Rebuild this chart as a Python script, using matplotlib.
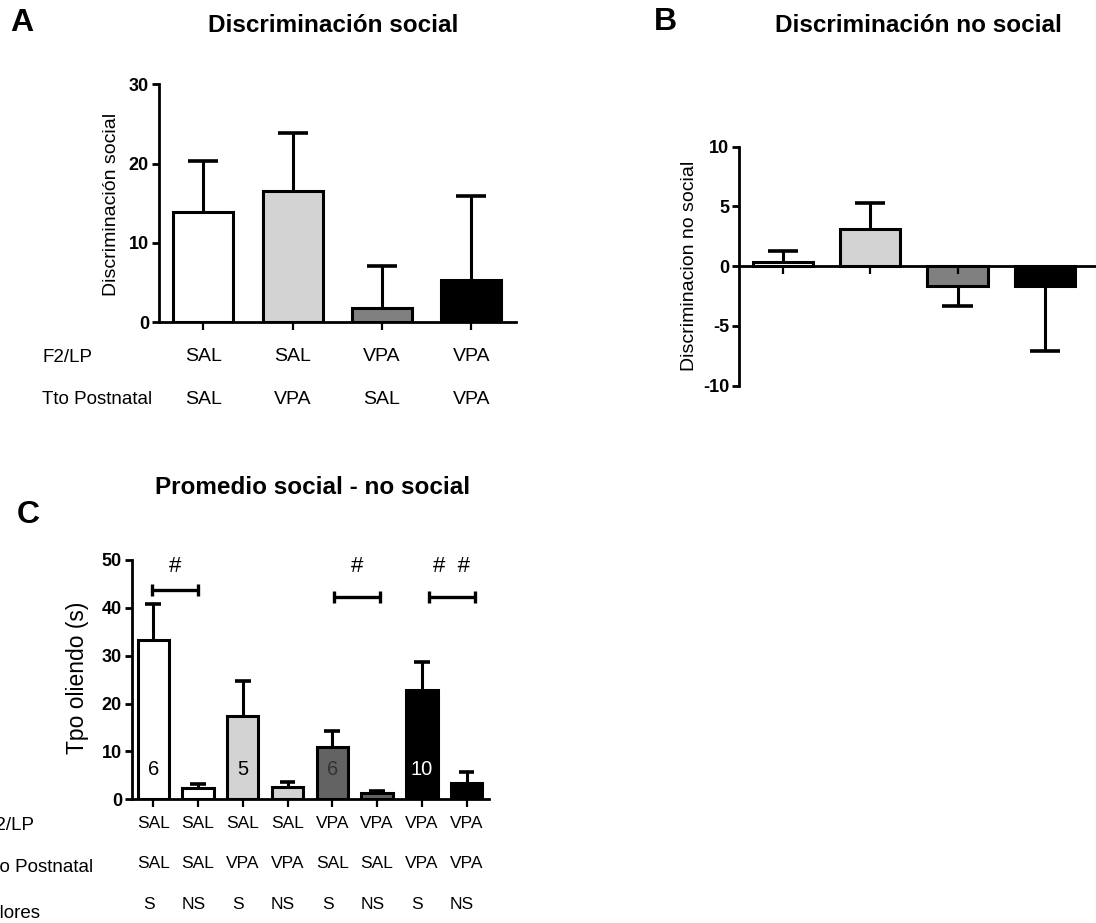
import matplotlib
matplotlib.use("Agg")
import matplotlib.pyplot as plt
import numpy as np

plt.rcParams['font.family'] = ['Liberation Sans', 'DejaVu Sans']

# Panel A: social discrimination
a_means = [13.9, 16.5, 1.8, 5.3]
a_sem = [6.4, 7.3, 5.3, 10.6]
a_f2lp = ['SAL', 'SAL', 'VPA', 'VPA']
a_postnatal = ['SAL', 'VPA', 'SAL', 'VPA']
a_colors = ['#ffffff', '#d3d3d3', '#808080', '#000000']

# Panel B: non-social discrimination
b_means = [0.35, 3.15, -1.67, -1.62]
b_sem = [0.95, 2.15, 1.67, 5.5]
b_colors = ['#ffffff', '#d3d3d3', '#808080', '#000000']

# Panel C: mean sniffing time, social vs non-social
c_means = [33.3, 2.3, 17.4, 2.6, 11.0, 1.4, 22.8, 3.5]
c_sem = [7.5, 0.9, 7.4, 1.0, 3.3, 0.3, 5.8, 2.1]
c_f2lp = ['SAL', 'SAL', 'SAL', 'SAL', 'VPA', 'VPA', 'VPA', 'VPA']
c_postnatal = ['SAL', 'SAL', 'VPA', 'VPA', 'SAL', 'SAL', 'VPA', 'VPA']
c_stim = ['S', 'NS', 'S', 'NS', 'S', 'NS', 'S', 'NS']
c_n = ['6', '', '5', '', '6', '', '10', '']
c_n_colors = ['#000000', '#000000', '#000000', '#000000', '#333333', '#000000', '#ffffff', '#000000']
c_colors = ['#ffffff', '#ffffff', '#d3d3d3', '#d3d3d3', '#636363', '#636363', '#000000', '#000000']
c_pairs = [(0, 1), (4, 5), (6, 7)]
c_pair_marks = ['#', '#', '#  #']

W, H = 1096, 923
fig = plt.figure(figsize=(W / 100, H / 100), dpi=100)

LW = 2.0
TICK_FS = 13


def px_axes(x0, x1, ytop, ybot):
    return fig.add_axes([x0 / W, 1 - ybot / H, (x1 - x0) / W, (ybot - ytop) / H])


def style(ax, tick_size):
    for s in ['top', 'right']:
        ax.spines[s].set_visible(False)
    for s in ['left', 'bottom']:
        ax.spines[s].set_linewidth(LW)
    ax.tick_params(axis='y', direction='out', length=5, width=LW, labelsize=tick_size, pad=2)
    ax.tick_params(axis='x', direction='out', length=6, width=1.6, labelbottom=False)
    for lab in ax.get_yticklabels():
        lab.set_fontweight('bold')


def draw_bars(ax, means, sem, colors, width):
    x = np.arange(len(means))
    means = np.asarray(means, dtype=float)
    sem = np.asarray(sem, dtype=float)
    # one-sided error bars pointing away from zero
    ends = np.where(means >= 0, means + sem, means - sem)
    ax.vlines(x, means, ends, color='black', lw=2.2, zorder=0.5)
    ax.hlines(ends, x - width / 4, x + width / 4, color='black', lw=2.6, zorder=0.5)
    ax.bar(x, means, width=width, color=colors, edgecolor='black', linewidth=2.2, zorder=1)
    ax.set_xticks(x)
    return x


def fig_text(x, y, s, **kw):
    fig.text(x / W, 1 - y / H, s, **kw)


# ---------- Panel A ----------
axA = px_axes(158.7, 516, 84.3, 322.3)
xa = draw_bars(axA, a_means, a_sem, a_colors, 0.67)
axA.set_xlim(-0.5, 3.5)
axA.set_ylim(0, 30)
axA.set_yticks([0, 10, 20, 30])
style(axA, TICK_FS)
for i in xa:
    axA.text(i, -0.145, a_f2lp[i], transform=axA.get_xaxis_transform(), ha='center', va='center', fontsize=14)
    axA.text(i, -0.325, a_postnatal[i], transform=axA.get_xaxis_transform(), ha='center', va='center', fontsize=14)
fig_text(112, 204, 'Discriminación social', rotation=90, ha='center', va='center', fontsize=14)
fig_text(42, 357, 'F2/LP', ha='left', va='center', fontsize=13.5)
fig_text(42, 400, 'Tto Postnatal', ha='left', va='center', fontsize=13.5)
fig_text(22, 23, 'A', ha='center', va='center', fontsize=23, fontweight='bold')
fig_text(333, 25, 'Discriminación social', ha='center', va='center', fontsize=17.5, fontweight='bold')

# ---------- Panel B ----------
axB = px_axes(739, 1100, 146.7, 385.7)
xb = draw_bars(axB, b_means, b_sem, b_colors, 0.69)
axB.set_xlim(-0.5, 3.63)
axB.set_ylim(-10, 10)
axB.set_yticks([-10, -5, 0, 5, 10])
axB.set_yticklabels(['-10', '-5', '0', '5', '10'])
axB.spines['bottom'].set_position(('data', 0))
style(axB, TICK_FS)
fig_text(689, 266, 'Discriminacion no social', rotation=90, ha='center', va='center', fontsize=14)
fig_text(665, 22, 'B', ha='center', va='center', fontsize=23, fontweight='bold')
fig_text(918, 25, 'Discriminación no social', ha='center', va='center', fontsize=17.5, fontweight='bold')

# ---------- Panel C ----------
axC = px_axes(131.7, 489, 560, 799.3)
xc = draw_bars(axC, c_means, c_sem, c_colors, 0.7)
axC.set_xlim(-0.48, 7.5)
axC.set_ylim(0, 50)
axC.set_yticks([0, 10, 20, 30, 40, 50])
style(axC, TICK_FS)
for i in xc:
    if c_n[i]:
        axC.text(i, 6.3, c_n[i], ha='center', va='center', fontsize=14.5, color=c_n_colors[i], zorder=3)
    axC.text(i, -0.1, c_f2lp[i], transform=axC.get_xaxis_transform(), ha='center', va='center', fontsize=12.5)
    axC.text(i, -0.27, c_postnatal[i], transform=axC.get_xaxis_transform(), ha='center', va='center', fontsize=12.5)
    axC.text(i - 0.1, -0.44, c_stim[i], transform=axC.get_xaxis_transform(), ha='center', va='center', fontsize=12.5)
fig_text(77.5, 677.5, 'Tpo oliendo (s)', rotation=90, ha='center', va='center', fontsize=16.5)

# significance brackets between social and non-social bars
bracket_y = [43.7, 42.3, 42.3]
bracket_shift = [0.0, 0.06, 0.18]
for (i, j), mark, by, sh in zip(c_pairs, c_pair_marks, bracket_y, bracket_shift):
    x0, x1 = xc[i] + sh - 0.03, xc[j] + sh
    axC.plot([x0, x1], [by, by], color='black', lw=2.4, solid_capstyle='butt', clip_on=False)
    for xe in (x0, x1):
        axC.plot([xe, xe], [by - 1.3, by + 1.3], color='black', lw=2.4, solid_capstyle='butt', clip_on=False)
    axC.text((x0 + x1) / 2, 48.6, mark, ha='center', va='center', fontsize=16)

fig_text(34, 825, 'F2/LP', ha='right', va='center', fontsize=13.5)
fig_text(93, 868, 'Tto Postnatal', ha='right', va='center', fontsize=13.5)
fig_text(41, 913, 'Valores', ha='right', va='center', fontsize=13.5)
fig_text(28, 515, 'C', ha='center', va='center', fontsize=23, fontweight='bold')
fig_text(313, 487, 'Promedio social - no social', ha='center', va='center', fontsize=17.5, fontweight='bold')

fig.savefig('out.png', dpi=100)
